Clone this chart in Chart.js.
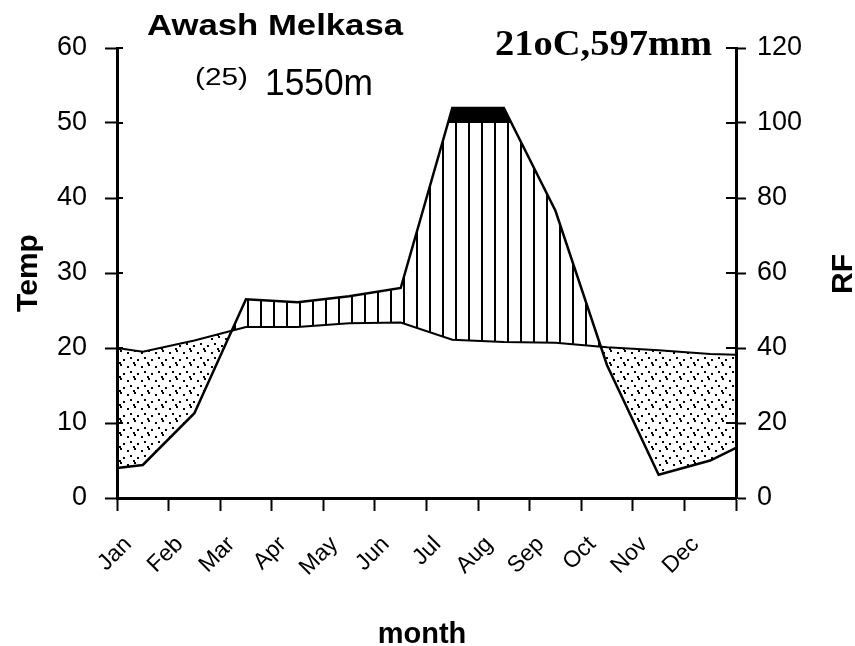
<!DOCTYPE html>
<html>
<head>
<meta charset="utf-8">
<script src="https://cdn.jsdelivr.net/npm/chart.js@4"></script>
<style>
  html, body { margin: 0; padding: 0; background: #fff; }
  canvas { display: block; }
</style>
</head>
<body>
<canvas id="climate" width="855" height="646"></canvas>
<script>
// Monthly climate data, Awash Melkasa
const months = ['Jan', 'Feb', 'Mar', 'Apr', 'May', 'Jun', 'Jul', 'Aug', 'Sep', 'Oct', 'Nov', 'Dec'];
const tempC = [19.5, 21.0, 22.8, 22.8, 23.3, 23.4, 21.1, 20.8, 20.7, 20.1, 19.7, 19.2];
const rainMm = [8.8, 22.6, 53, 52.2, 53.8, 56, 104, 104, 76.6, 35.4, 6.2, 10];
// values where the curves meet the left and right axes
const tempEdges = [20.0, 19.1];
const rainEdges = [8, 13.4];
const tempTicks = [0, 10, 20, 30, 40, 50, 60];
const rainTicks = [0, 20, 40, 60, 80, 100, 120];

Chart.defaults.font.family = "'Liberation Sans', Arial, sans-serif";
Chart.defaults.color = '#000';

// month i sits in the middle of its slot on the x axis
function toPoints(values, edges) {
    const pts = [{ x: 0, y: edges[0] }];
    values.forEach((v, i) => pts.push({ x: i + 0.5, y: v }));
    pts.push({ x: 12, y: edges[1] });
    return pts;
}

function makeHatch() {
    const c = document.createElement('canvas');
    c.width = 13; c.height = 4;
    const g = c.getContext('2d');
    g.fillStyle = '#000';
    g.fillRect(0, 0, 2, 4);
    return g.createPattern(c, 'repeat');
}

function makeDots() {
    const c = document.createElement('canvas');
    c.width = 14; c.height = 14;
    const g = c.getContext('2d');
    g.fillStyle = '#000';
    [[1, 2], [8, 0], [4, 7], [11, 9], [7, 12]].forEach(([x, y]) => g.fillRect(x, y, 2, 2));
    return g.createPattern(c, 'repeat');
}

// short tick stubs on the inside of each axis
const innerTicks = {
    id: 'innerTicks',
    afterDraw(chart) {
        const { ctx, chartArea: a, scales } = chart;
        ctx.save();
        ctx.strokeStyle = '#000';
        ctx.lineWidth = 2;
        ctx.beginPath();
        scales.y.ticks.forEach(t => {
            const py = scales.y.getPixelForValue(t.value);
            ctx.moveTo(a.left, py); ctx.lineTo(a.left + 6, py);
        });
        scales.y2.ticks.forEach(t => {
            const py = scales.y2.getPixelForValue(t.value);
            ctx.moveTo(a.right, py); ctx.lineTo(a.right - 10, py);
        });
        ctx.stroke();
        ctx.restore();
    }
};

// titles and axis names
function drawText(ctx, text, x, y, font, width, rotate) {
    ctx.save();
    ctx.font = font;
    ctx.translate(x, y);
    if (rotate) ctx.rotate(-Math.PI / 2);
    const w = ctx.measureText(text).width;
    if (width) ctx.scale(width / w, 1);
    ctx.fillText(text, rotate ? -w / 2 : 0, 0);
    ctx.restore();
}

const labelsPlugin = {
    id: 'labels',
    afterDraw(chart) {
        const ctx = chart.ctx;
        ctx.fillStyle = '#000';
        ctx.textBaseline = 'alphabetic';
        ctx.textAlign = 'left';
        drawText(ctx, 'Awash Melkasa', 147, 35, "bold 30px 'Liberation Sans'", 256);
        drawText(ctx, '(25)', 195, 85, "23px 'Liberation Sans'", 53);
        drawText(ctx, '1550m', 265, 95, "36px 'Liberation Sans'", 108);
        drawText(ctx, '21oC,597mm', 495, 55, "bold 36px 'Liberation Serif'", 217);
        drawText(ctx, 'Temp', 37, 273, "bold 30px 'Liberation Sans'", 0, true);
        drawText(ctx, 'RF', 852, 274, "bold 30px 'Liberation Sans'", 0, true);
        ctx.textAlign = 'center';
        ctx.font = "bold 29px 'Liberation Sans'";
        ctx.fillText('month', 422, 643);
    }
};

const axisGrid = { drawOnChartArea: false, tickColor: '#000', tickWidth: 2 };
const axisBorder = { color: '#000', width: 3 };
const tickFont = { size: 27 };

new Chart(document.getElementById('climate'), {
    type: 'line',
    data: {
        datasets: [
            {
                label: 'Temp',
                data: toPoints(tempC, tempEdges),
                yAxisID: 'y',
                borderColor: '#000',
                borderWidth: 2,
                pointRadius: 0,
                tension: 0,
                fill: false
            },
            {
                label: 'RF',
                data: toPoints(rainMm, rainEdges),
                yAxisID: 'y2',
                borderColor: '#000',
                borderWidth: 2.5,
                pointRadius: 0,
                tension: 0,
                fill: { target: 0, above: makeHatch(), below: makeDots() }
            },
            {
                label: 'RF > 100',
                data: toPoints(rainMm, rainEdges),
                yAxisID: 'y2',
                borderWidth: 0,
                borderColor: 'rgba(0,0,0,0)',
                pointRadius: 0,
                tension: 0,
                fill: { target: { value: 100 }, above: '#000', below: 'rgba(0,0,0,0)' }
            }
        ]
    },
    options: {
        responsive: false,
        animation: false,
        layout: { padding: { top: 48 } },
        plugins: {
            legend: { display: false },
            tooltip: { enabled: false }
        },
        scales: {
            x: {
                type: 'linear',
                min: 0,
                max: 12,
                grid: { ...axisGrid, tickLength: 13 },
                border: axisBorder,
                ticks: {
                    stepSize: 1,
                    autoSkip: false,
                    minRotation: 45,
                    maxRotation: 45,
                    labelOffset: 11,
                    padding: 20,
                    font: { size: 23 },
                    callback: v => months[v] ?? ''
                },
                afterFit: s => { s.height = 148; }
            },
            y: {
                position: 'left',
                min: tempTicks[0],
                max: tempTicks[tempTicks.length - 1],
                grid: { ...axisGrid, tickLength: 12 },
                border: axisBorder,
                ticks: { stepSize: 10, padding: 18, font: tickFont },
                afterFit: s => { s.width = 117; }
            },
            y2: {
                position: 'right',
                min: rainTicks[0],
                max: rainTicks[rainTicks.length - 1],
                grid: { ...axisGrid, tickLength: 10 },
                border: axisBorder,
                ticks: { stepSize: 20, padding: 11, font: tickFont },
                afterFit: s => { s.width = 119; }
            }
        }
    },
    plugins: [innerTicks, labelsPlugin]
});
</script>
</body>
</html>
